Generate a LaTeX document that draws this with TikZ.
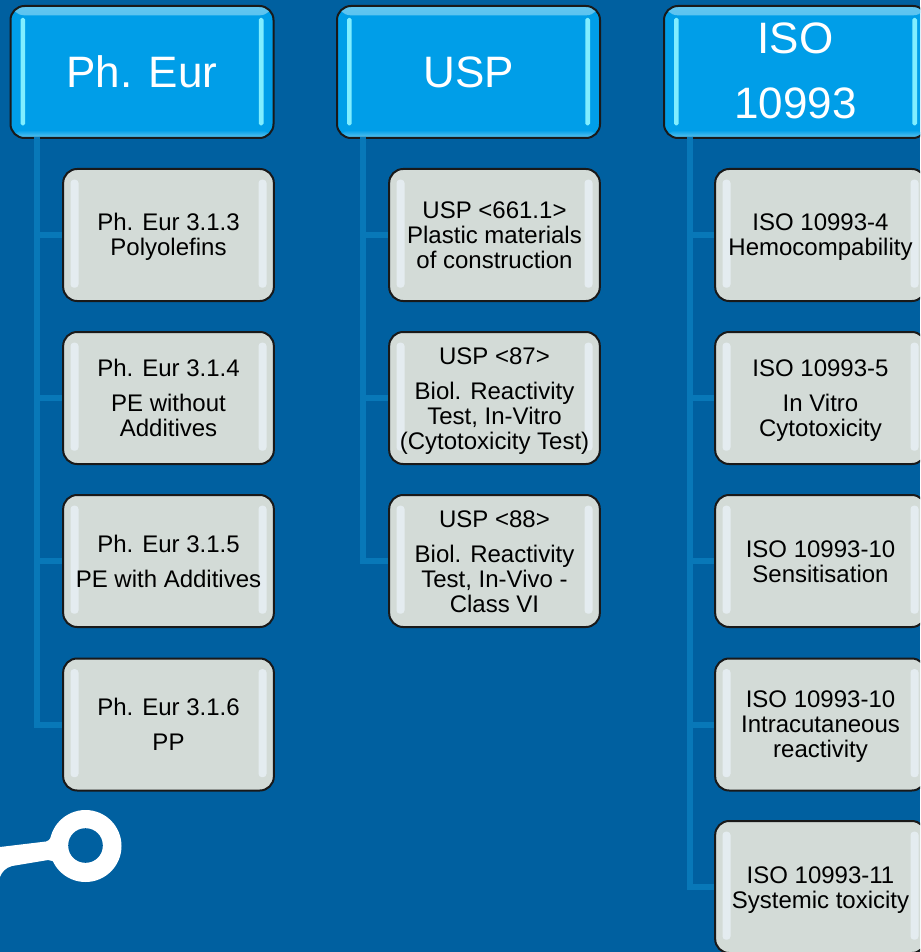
\documentclass[tikz,border=0pt]{standalone}
\usepackage{fontspec}
\setmainfont{Liberation Sans}
\definecolor{bgblue}{HTML}{0060A0}
\definecolor{headblue}{HTML}{009EE8}
\definecolor{headedge}{HTML}{62C6F0}
\definecolor{headbar}{HTML}{80EEFF}
\definecolor{childfill}{HTML}{D3DBD7}
\definecolor{childbar}{HTML}{E4ECF0}
\definecolor{linkblue}{HTML}{0878B8}
\tikzset{
  x=0.75pt, y=-0.75pt,
  headbox/.style={rectangle, rounded corners=10.5pt, draw=black!90, line width=1.5pt,
    fill=headblue, inner sep=0pt,
    minimum width=197.25pt, minimum height=99pt,
    path picture={
      \shade[top color=headedge, bottom color=headblue] (path picture bounding box.north west) rectangle ([yshift=-7pt]path picture bounding box.north east);
      \shade[top color=headblue, bottom color=headedge] ([yshift=6pt]path picture bounding box.south west) rectangle (path picture bounding box.south east);
      \fill[headbar, rounded corners=1.2pt] ([xshift=7.5pt,yshift=-9pt]path picture bounding box.north west) rectangle ([xshift=11pt,yshift=9.5pt]path picture bounding box.south west);
      \fill[headbar, rounded corners=1.2pt] ([xshift=-7.5pt,yshift=-9pt]path picture bounding box.north east) rectangle ([xshift=-11pt,yshift=9.5pt]path picture bounding box.south east);
    }},
  headtext/.style={text=white, font=\fontsize{33}{48.75}\selectfont, align=center, inner sep=0pt},
  childbox/.style={rectangle, rounded corners=10.5pt, draw=black!90, line width=1.5pt,
    fill=childfill, inner sep=0pt,
    minimum width=158pt, minimum height=99pt,
    path picture={
      \fill[childbar, rounded corners=2.5pt] ([xshift=5.5pt,yshift=-8pt]path picture bounding box.north west) rectangle ([xshift=11.5pt,yshift=10pt]path picture bounding box.south west);
      \fill[childbar, rounded corners=2.5pt] ([xshift=-5.5pt,yshift=-8pt]path picture bounding box.north east) rectangle ([xshift=-11.5pt,yshift=10pt]path picture bounding box.south east);
    }},
  childtext/.style={text=black, font=\fontsize{18}{18.75}\selectfont, align=center, inner sep=0pt},
  link/.style={draw=linkblue, line width=4.5pt},
}
% name, x, y, text shift down in px, text
\newcommand{\headnode}[5]{\node[headbox] (#1) at (#2,#3) {}; \node[headtext, yshift=-#4*0.75pt] (#1t) at (#1) {#5};}
\newcommand{\childnode}[5]{\node[childbox] (#1) at (#2,#3) {}; \node[childtext, yshift=-#4*0.75pt] (#1t) at (#1) {#5};}
\begin{document}
\begin{tikzpicture}
\useasboundingbox (0,0) rectangle (920,952);
\clip (0,0) rectangle (920,952);
\fill[bgblue] (0,0) rectangle (920,952);
% logo
\fill[white] (85.5,846) circle (36);
\fill[white] (0,847) -- (46,841.5) .. controls (50,841) and (52,836) .. (56,826) -- (70,860)
  -- (62,872) .. controls (58,866) and (55,860) .. (48,860)
  -- (12,866) .. controls (5,868) and (2,872) .. (0,877) -- cycle;
\fill[bgblue] (85.5,845.5) circle (17.3);
% heads
\headnode{h1}{142}{72}{0}{Ph. Eur}
\headnode{h2}{468.5}{72}{0}{USP}
\headnode{h3}{795.5}{72}{-1.5}{ISO\\10993}
% Ph. Eur
\childnode{a1}{168.5}{235}{2}{Ph. Eur 3.1.3\\Polyolefins}
\childnode{a2}{168.5}{398}{0}{Ph. Eur 3.1.4\\[7.5pt]PE without\\Additives}
\childnode{a3}{168.5}{561}{0}{Ph. Eur 3.1.5\\[7.5pt]PE with Additives}
\childnode{a4}{168.5}{724.5}{0}{Ph. Eur 3.1.6\\[7.5pt]PP}
% USP
\childnode{b1}{494.5}{235}{0.5}{USP <661.1>\\Plastic materials\\of construction}
\childnode{b2}{494.5}{398}{3}{USP <87>\\[7.5pt]Biol. Reactivity\\Test, In-Vitro\\(Cytotoxicity Test)}
\childnode{b3}{494.5}{561}{0.5}{USP <88>\\[7.5pt]Biol. Reactivity\\Test, In-Vivo -\\Class VI}
% ISO
\childnode{c1}{820.5}{235}{2}{ISO 10993-4\\Hemocompability}
\childnode{c2}{820.5}{398}{3}{ISO 10993-5\\[7.5pt]In Vitro\\Cytotoxicity}
\childnode{c3}{820.5}{561}{0.5}{ISO 10993-10\\Sensitisation}
\childnode{c4}{820.5}{724.5}{2}{ISO 10993-10\\Intracutaneous\\reactivity}
\childnode{c5}{820.5}{887}{3}{ISO 10993-11\\Systemic toxicity}
% connectors
\foreach \c in {a1,a2,a3,a4} \draw[link] ([xshift=20.25pt,yshift=1.5pt]h1.south west) |- (\c.west);
\foreach \c in {b1,b2,b3} \draw[link] ([xshift=20.25pt,yshift=1.5pt]h2.south west) |- (\c.west);
\foreach \c in {c1,c2,c3,c4,c5} \draw[link] ([xshift=20.25pt,yshift=1.5pt]h3.south west) |- (\c.west);
\end{tikzpicture}
\end{document}
